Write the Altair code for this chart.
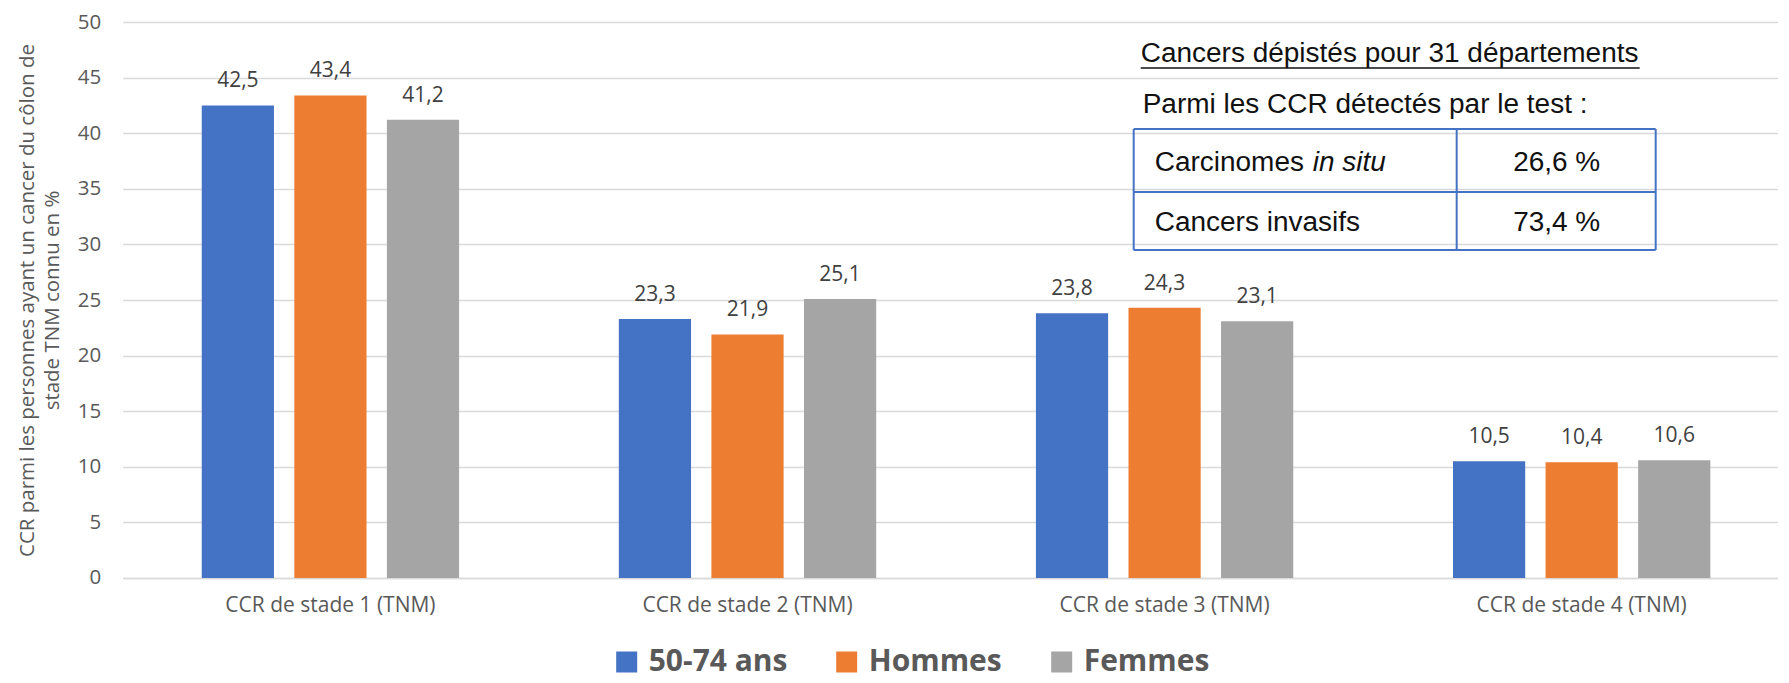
import altair as alt
import pandas as pd

# ---------------- data ----------------
stages = ["CCR de stade 1 (TNM)", "CCR de stade 2 (TNM)",
          "CCR de stade 3 (TNM)", "CCR de stade 4 (TNM)"]
groups = ["50-74 ans", "Hommes", "Femmes"]
values_50_74 = [42.5, 23.3, 23.8, 10.5]
values_hommes = [43.4, 21.9, 24.3, 10.4]
values_femmes = [41.2, 25.1, 23.1, 10.6]
colors = ["#4472C4", "#ED7D31", "#A5A5A5"]
y_ticks = list(range(0, 51, 5))
y_title = ["CCR parmi  les personnes ayant un cancer du côlon de",
           "stade TNM connu en %"]

table_title = "Cancers dépistés pour 31 départements"
table_subtitle = "Parmi les CCR détectés par le test :"
table_row_names = ["Carcinomes", "Cancers invasifs"]
table_row_italic = ["in situ", ""]
table_values = [26.6, 73.4]

# ---------------- build table ----------------
rows = []
for g, vals in zip(groups, [values_50_74, values_hommes, values_femmes]):
    for s, v in zip(stages, vals):
        rows.append({"stage": s, "group": g, "value": v})
df = pd.DataFrame(rows)

FONT = "Open Sans"
GREY_TXT = "#595959"

x_enc = alt.X(
    "stage:N", sort=stages,
    scale=alt.Scale(paddingInner=0.383, paddingOuter=0.1755, align=0.54),
    axis=alt.Axis(title=None, labelAngle=0, labelFont=FONT, labelFontSize=21,
                  labelColor=GREY_TXT, labelPadding=17, labelLimit=400,
                  ticks=False, tickSize=0,
                  domainColor="#d9d9d9", domainWidth=1.5, grid=False),
)
xoff_enc = alt.XOffset("group:N", sort=groups,
                       scale=alt.Scale(paddingInner=0.22, paddingOuter=0))
y_enc = alt.Y(
    "value:Q", scale=alt.Scale(domain=[0, 50], nice=False),
    axis=alt.Axis(values=y_ticks, title=y_title, titleFont=FONT, titleFontSize=20.5,
                  titleFontWeight="normal", titleColor=GREY_TXT, titleLineHeight=25,
                  titleX=-85, labelFont=FONT, labelFontSize=20.5, labelColor=GREY_TXT,
                  labelPadding=22, ticks=False, tickSize=0, domain=False,
                  grid=True, gridColor="#d9d9d9", gridWidth=1.5),
)

bars = alt.Chart(df).mark_bar().encode(
    x=x_enc, xOffset=xoff_enc, y=y_enc,
    color=alt.Color(
        "group:N", sort=groups, scale=alt.Scale(domain=groups, range=colors),
        legend=alt.Legend(title=None, orient="none", legendX=489, legendY=625,
                          direction="horizontal", symbolType="square",
                          symbolSize=441, symbolStrokeWidth=0, symbolOpacity=1,
                          labelFont=FONT, labelFontSize=30, labelFontWeight="bold",
                          labelColor=GREY_TXT, labelOffset=7, columnPadding=44,
                          labelLimit=400, padding=0),
    ),
)

labels = alt.Chart(df).transform_calculate(
    label="replace(format(datum.value, '.1f'), '.', ',')"
).mark_text(font=FONT, fontSize=21, color="#404040", baseline="alphabetic",
            dy=-18).encode(x=x_enc, xOffset=xoff_enc, y=y_enc, text="label:N")

base = alt.layer(bars, labels)

# ---------------- annotation (table) ----------------
BLUE = "#4472C4"
rules_df = pd.DataFrame([
    {"x": 1018, "x2": 1517, "y": 46, "y2": 46, "c": "#111111", "w": 1.5},
    {"x": 1011, "x2": 1533, "y": 107, "y2": 107, "c": BLUE, "w": 2},
    {"x": 1011, "x2": 1533, "y": 170, "y2": 170, "c": BLUE, "w": 2},
    {"x": 1011, "x2": 1533, "y": 228, "y2": 228, "c": BLUE, "w": 2},
    {"x": 1011, "x2": 1011, "y": 107, "y2": 228, "c": BLUE, "w": 2},
    {"x": 1334, "x2": 1334, "y": 107, "y2": 228, "c": BLUE, "w": 2},
    {"x": 1533, "x2": 1533, "y": 107, "y2": 228, "c": BLUE, "w": 2},
])
ann_rules = alt.Chart(rules_df).mark_rule().encode(
    x=alt.X("x:Q", scale=None, axis=None), x2="x2:Q",
    y=alt.Y("y:Q", scale=None, axis=None), y2="y2:Q",
    color=alt.Color("c:N", scale=None), size=alt.Size("w:Q", scale=None),
)


def text_layer(df_, align="left", style="normal", baseline="alphabetic"):
    return alt.Chart(df_).mark_text(
        font="Liberation Sans", fontSize=28, color="#111111", align=align,
        baseline=baseline, fontStyle=style,
    ).encode(x=alt.X("x:Q", scale=None, axis=None),
             y=alt.Y("y:Q", scale=None, axis=None), text="t:N")


t_head = text_layer(pd.DataFrame({"t": [table_title, table_subtitle],
                                  "x": [1018, 1020], "y": [40, 91]}))
t_names = text_layer(pd.DataFrame({"t": table_row_names, "x": [1032, 1032],
                                   "y": [141, 201]}), baseline="middle")
t_ital = text_layer(pd.DataFrame({"t": table_row_italic, "x": [1190, 1190],
                                  "y": [141, 201]}), style="italic",
                    baseline="middle")
t_vals = text_layer(pd.DataFrame({
    "t": [f"{v:.1f}".replace(".", ",") + " %" for v in table_values],
    "x": [1434, 1434], "y": [141, 201]}), align="center", baseline="middle")

chart = alt.layer(base, ann_rules, t_head, t_names, t_ital, t_vals).resolve_scale(
    x="independent", y="independent"
).properties(
    width=1655, height=556,
    autosize=alt.AutoSizeParams(type="none"),
    padding={"left": 114.7, "top": 14, "right": 0, "bottom": 104},
    background="white",
).configure_view(stroke=None)

chart.save("out.html", embed_options={"renderer": "svg", "actions": False})
